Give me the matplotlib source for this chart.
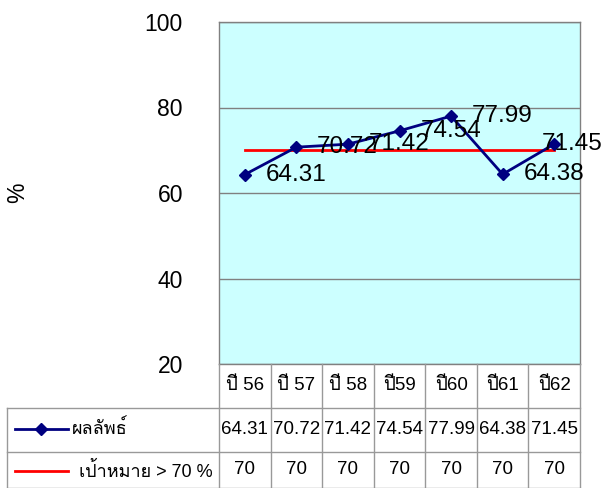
import matplotlib
matplotlib.use("Agg")
import matplotlib.pyplot as plt
import matplotlib.transforms as mtransforms
from matplotlib import font_manager
from matplotlib.ft2font import FT2Font
from matplotlib.lines import Line2D

years = ["ปี 56", "ปี 57", "ปี 58", "ปี59", "ปี60", "ปี61", "ปี62"]
results = [64.31, 70.72, 71.42, 74.54, 77.99, 64.38, 71.45]
targets = [70, 70, 70, 70, 70, 70, 70]
result_name = "ผลลัพธ์"
target_name = "เป้าหมาย > 70 %"
y_ticks = [20, 40, 60, 80, 100]


def thai_font():
    # find any installed family that has Thai glyphs
    for f in font_manager.fontManager.ttflist:
        try:
            if ord("ผ") in FT2Font(f.fname).get_charmap():
                return f.name
        except Exception:
            pass
    return None


families = ["Liberation Sans", "DejaVu Sans"]
th = thai_font()
if th:
    families.append(th)
plt.rcParams["font.family"] = families

W, H = 603, 488
fig = plt.figure(figsize=(W / 100, H / 100), dpi=100)


def fx(x):
    return x / W


def fy(y):
    return 1 - y / H


left, right, top, bottom = 219, 580, 22, 364
ax = fig.add_axes([fx(left), fy(bottom), fx(right - left), fy(top) - fy(bottom)])
ax.set_facecolor("#CCFFFF")

x = list(range(len(years)))
ax.plot(x, targets, color="#FF0000", lw=2, zorder=3)
ax.plot(x, results, color="#000080", lw=2, marker="D", ms=6, zorder=4)

for i, v in enumerate(results):
    dx = 15 if i < len(results) - 1 else -9
    ax.annotate(f"{v:.2f}", (i, v), xytext=(dx, 0), textcoords="offset points",
                ha="left", va="center", fontsize=17.5, color="black", zorder=5)

ax.set_xlim(-0.5, len(years) - 0.5)
ax.set_ylim(20, 100)
ax.set_yticks(y_ticks)
ax.set_xticks([])
ax.tick_params(axis="y", length=0, pad=26, labelsize=16.5)
ax.yaxis.grid(True, color="#808080", lw=1)
ax.set_axisbelow(True)
for s in ax.spines.values():
    s.set_color("#808080")
    s.set_linewidth(1)

fig.text(fx(18), fy(193), "%", rotation=90, fontsize=16.5, ha="center", va="center")

# data table under the plot: columns follow the x scale, rows in figure coords
grid = "#999999"
tr = mtransforms.blended_transform_factory(ax.transData, fig.transFigure)
row_lines = [364, 408, 452, 488]
for i in range(len(years) + 1):
    fig.add_artist(Line2D([i - 0.5, i - 0.5], [fy(364), fy(488)], transform=tr,
                          color=grid, lw=1))
for y in row_lines[1:]:
    fig.add_artist(Line2D([fx(7), fx(right)], [fy(y), fy(y)], color=grid, lw=1))
fig.add_artist(Line2D([fx(7), fx(7)], [fy(408), fy(488)], color=grid, lw=1))

rows = [years, [f"{v:.2f}" for v in results], [str(v) for v in targets]]
for r, cells in enumerate(rows):
    yc = fy((row_lines[r] + row_lines[r + 1]) / 2)
    for i, t in enumerate(cells):
        fig.text(i, yc, t, transform=tr, fontsize=13.5, ha="center", va="center")

# legend keys in the first column
fig.add_artist(Line2D([fx(15), fx(68)], [fy(429), fy(429)], color="#000080", lw=2))
fig.add_artist(Line2D([fx(41)], [fy(429)], color="#000080", marker="D", ms=6))
fig.text(fx(72), fy(429), result_name, fontsize=13, ha="left", va="center")
fig.add_artist(Line2D([fx(15), fx(68)], [fy(471), fy(471)], color="#FF0000", lw=2))
fig.text(fx(79), fy(471), target_name, fontsize=13, ha="left", va="center")

fig.savefig("out.png", dpi=100)
